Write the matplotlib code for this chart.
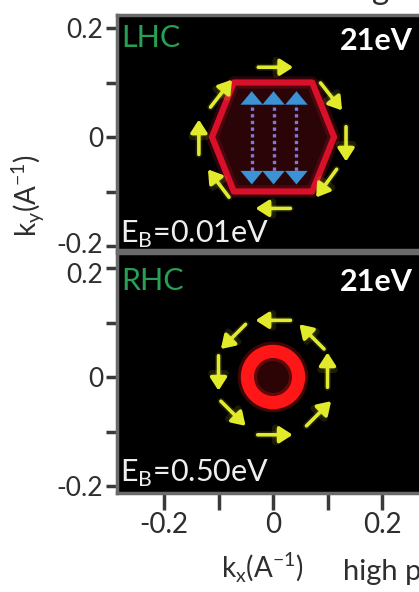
import numpy as np
import matplotlib
matplotlib.use("Agg")
import matplotlib.pyplot as plt
from matplotlib.patches import Polygon
from matplotlib.transforms import ScaledTranslation

plt.rcParams['font.family'] = ['Lato', 'DejaVu Sans']

# ---- data ---------------------------------------------------------------
xticks = [-0.2, -0.1, 0.0, 0.1, 0.2]
yticks = [-0.2, -0.1, 0.0, 0.1, 0.2]
xtick_labels = ['-0.2', '', '0', '', '0.2']
ytick_labels = ['-0.2', '', '0', '', '0.2']

# hexagonal constant-energy contour (LHC, E_B = 0.01 eV)
hex_kx = [-0.112, -0.072, 0.072, 0.112, 0.072, -0.072]
hex_ky = [0.0, 0.100, 0.100, 0.0, -0.100, -0.100]

# circular contour (RHC, E_B = 0.50 eV)
ring_radius = 0.047

# spin arrows: centre (kx, ky) and direction angle in degrees
lhc_arrow_kx = [0.005, 0.107, 0.134, 0.098, 0.000, -0.100, -0.136, -0.095]
lhc_arrow_ky = [0.128, 0.074, -0.013, -0.085, -0.131, -0.085, 0.000, 0.080]
lhc_arrow_ang = [0, -52, -90, -126, 180, 127, 90, 52]

rhc_arrow_kx = [0.000, -0.073, -0.100, -0.073, 0.004, 0.084, 0.100, 0.071]
rhc_arrow_ky = [0.104, 0.074, 0.007, -0.067, -0.106, -0.067, 0.013, 0.074]
rhc_arrow_ang = [180, -135, -90, -45, 0, 45, 90, 135]

# vertical (double-headed) transition arrows inside the hexagon
blue_kx = [-0.039, 0.001, 0.043]
blue_ky_top = 0.084
blue_ky_bot = -0.087

arrow_len = 0.064

W, H = 419, 592
fig = plt.figure(figsize=(W / 100, H / 100), dpi=100)


def px_axes(left, top, right, bottom):
    return fig.add_axes([left / W, 1 - bottom / H, (right - left) / W, (bottom - top) / H])


SCALE = 545.0  # pixels per unit k
TXT = '#2e2e2e'


def setup(ax, top, bottom, zero_y, show_x):
    ax.set_facecolor('black')
    ax.set_xlim((117 - 273) / SCALE, (425 - 273) / SCALE)
    ax.set_ylim(-(bottom - zero_y) / SCALE, (zero_y - top) / SCALE)
    for s in ax.spines.values():
        s.set_color('#6a6a6a')
        s.set_linewidth(2.5)
    ax.set_yticks(yticks)
    ax.set_yticklabels(ytick_labels)
    ax.tick_params(axis='y', direction='out', length=8, width=2.5, color='#3a3a3a',
                   labelsize=19, labelcolor=TXT, pad=2)
    ax.set_xticks(xticks)
    if show_x:
        ax.set_xticklabels(xtick_labels)
        ax.tick_params(axis='x', direction='out', length=12, width=2.5, color='#3a3a3a',
                       labelsize=20, labelcolor=TXT, pad=2)
    else:
        ax.tick_params(axis='x', length=0, labelbottom=False)


def nudge(label, dy_px):
    label.set_transform(label.get_transform() +
                        ScaledTranslation(0, dy_px / 100, fig.dpi_scale_trans))


def spin_arrows(ax, kx, ky, ang):
    for x, y, a in zip(kx, ky, ang):
        dx = 0.5 * arrow_len * np.cos(np.radians(a))
        dy = 0.5 * arrow_len * np.sin(np.radians(a))
        for lw, al in ((5, 0.12), (2.6, 1.0)):
            ax.annotate('', xy=(x + dx, y + dy), xytext=(x - dx, y - dy),
                        arrowprops=dict(arrowstyle='-|>,head_length=0.7,head_width=0.45',
                                        color='#e2ea2c', lw=lw, alpha=al,
                                        shrinkA=0, shrinkB=0, mutation_scale=11))


# ---- top panel: LHC -----------------------------------------------------
ax1 = px_axes(117, 15, 425, 250)
setup(ax1, 15, 250, 137, False)
ax1.add_patch(Polygon(np.column_stack([hex_kx, hex_ky]), closed=True,
                      facecolor='#2a0406', edgecolor='none'))
for lw, al in ((9, 0.2), (4.5, 1.0)):
    ax1.add_patch(Polygon(np.column_stack([hex_kx, hex_ky]), closed=True, fill=False,
                          edgecolor='#d8102a', lw=lw, alpha=al, joinstyle='round'))
for x in blue_kx:
    ax1.plot([x, x], [blue_ky_bot + 0.014, blue_ky_top - 0.014], color='#8078d8',
             lw=2.4, ls=(0, (1.0, 1.0)))
    for y0, y1 in ((blue_ky_top - 0.03, blue_ky_top), (blue_ky_bot + 0.03, blue_ky_bot)):
        ax1.annotate('', xy=(x, y1), xytext=(x, y0),
                     arrowprops=dict(arrowstyle='-|>,head_length=0.6,head_width=0.5',
                                     color='#3b93d6', lw=0.1, shrinkA=0, shrinkB=0,
                                     mutation_scale=16))
spin_arrows(ax1, lhc_arrow_kx, lhc_arrow_ky, lhc_arrow_ang)
ax1.text(121 / W, 1 - 38 / H, 'LHC', transform=fig.transFigure, color='#27a055',
         fontsize=22, va='center', ha='left')
ax1.text(413 / W, 1 - 41 / H, '21eV', transform=fig.transFigure, color='white',
         fontsize=22, fontweight='bold', va='center', ha='right')
ax1.text(120 / W, 1 - 234 / H, r'E$_\mathregular{B}$=0.01eV', transform=fig.transFigure,
         color='#eeeeee', fontsize=22, va='center', ha='left')

# ---- bottom panel: RHC --------------------------------------------------
ax2 = px_axes(117, 253, 425, 493)
setup(ax2, 253, 493, 377, True)
theta = np.linspace(0, 2 * np.pi, 200)
ax2.fill(ring_radius * np.cos(theta), ring_radius * np.sin(theta), color='#2c0406', lw=0)
for lw, al in ((14, 0.25), (9.5, 1.0)):
    ax2.plot(ring_radius * np.cos(theta), ring_radius * np.sin(theta), color='#ff1616',
             lw=lw, alpha=al, solid_capstyle='round')
spin_arrows(ax2, rhc_arrow_kx, rhc_arrow_ky, rhc_arrow_ang)
ax2.text(121 / W, 1 - 281 / H, 'RHC', transform=fig.transFigure, color='#27a055',
         fontsize=22, va='center', ha='left')
ax2.text(413 / W, 1 - 282 / H, '21eV', transform=fig.transFigure, color='white',
         fontsize=22, fontweight='bold', va='center', ha='right')
ax2.text(120 / W, 1 - 473 / H, r'E$_\mathregular{B}$=0.50eV', transform=fig.transFigure,
         color='#eeeeee', fontsize=22, va='center', ha='left')

# keep the stacked -0.2 / 0.2 labels apart where the panels meet
nudge(ax1.get_yticklabels()[0], 3)
nudge(ax2.get_yticklabels()[-1], -5)

# ---- shared labels ------------------------------------------------------
fig.text(28 / W, 1 - 195 / H, r'k$_\mathregular{y}$(A$^{\mathregular{-1}}$)', rotation=90,
         color=TXT, fontsize=20, ha='center', va='center')
fig.text(262 / W, 1 - 568 / H, r'k$_\mathregular{x}$(A$^{\mathregular{-1}}$)',
         color=TXT, fontsize=20, ha='center', va='center')
fig.text(343 / W, 1 - 572 / H, 'high photon energy', color=TXT, fontsize=21,
         ha='left', va='center')
fig.text(381 / W, 1 + 1 / H, 'g', color=TXT, fontsize=24, ha='center',
         va='baseline')

fig.savefig('out.png', dpi=100, facecolor='white')
